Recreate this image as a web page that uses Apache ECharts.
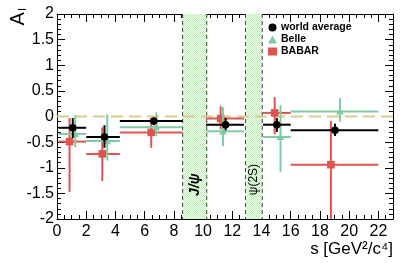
<!DOCTYPE html>
<html><head><meta charset="utf-8">
<script src="https://cdn.jsdelivr.net/npm/echarts@6/dist/echarts.min.js"></script>
<style>html,body{margin:0;padding:0;background:#fff}#c{width:409px;height:263px}</style>
</head><body><div id="c"></div>
<script>
// ---- data ----
const binLo = [0.1, 2.0, 4.3, 10.2, 14.1, 16.0];
const binHi = [2.0, 4.3, 8.6, 12.8, 16.0, 22.0];

const worldX  = [1.08, 3.25, 6.63, 11.54, 15.05, 19.03];
const worldY  = [-0.22, -0.40, -0.09, -0.16, -0.16, -0.27];
const worldLo = [-0.42, -0.61, -0.17, -0.27, -0.30, -0.38];
const worldHi = [-0.03, -0.17, -0.03, -0.03, -0.03, -0.14];

const belleX  = [1.25, 3.44, 6.80, 11.36, 15.30, 19.37];
const belleY  = [-0.34, -0.48, -0.21, -0.29, -0.40, 0.10];
const belleLo = [-0.60, -0.86, -0.38, -0.58, -1.08, -0.10];
const belleHi = [0.03, 0.04, 0.08, 0.18, 0.22, 0.36];

const babarX  = [0.86, 3.10, 6.45, 11.20, 14.90, 18.75];
const babarY  = [-0.49, -0.73, -0.31, -0.04, 0.07, -0.94];
const babarLo = [-1.47, -1.26, -0.61, -0.25, -0.35, -2.30];
const babarHi = [-0.03, -0.21, -0.03, 0.20, 0.38, -0.09];

const vetoLo = [8.6, 12.9];
const vetoHi = [10.25, 14.05];
const vetoLabel = ['J/ψ', 'ψ(2S)'];
const vetoLabelY = [-1.33, -1.23];

const xTicks = [0, 2, 4, 6, 8, 10, 12, 14, 16, 18, 20, 22];
const yTicks = [-2, -1.5, -1, -0.5, 0, 0.5, 1, 1.5, 2];
const zeroLineX = [0, 23];

const seriesNames = ['world average', 'Belle', 'BABAR'];
// ---- end data ----

const FONT = '"Liberation Sans", Arial, Helvetica, sans-serif';
const XMIN = 0, XMAX = 23, YMIN = -2, YMAX = 2;

function rows(xs, ys, lo, hi) {
  return xs.map((x, i) => [x, ys[i], lo[i], hi[i], binLo[i], binHi[i]]);
}

function errRender(color, symbol) {
  return function (params, api) {
    const x = api.value(0), y = api.value(1);
    const lo = Math.max(api.value(2), YMIN), hi = Math.min(api.value(3), YMAX);
    const p = api.coord([x, y]);
    const a = api.coord([api.value(4), y]);
    const b = api.coord([api.value(5), y]);
    const v1 = api.coord([x, lo]);
    const v2 = api.coord([x, hi]);
    const st = { stroke: color, lineWidth: 2 };
    const ch = [
      { type: 'line', shape: { x1: a[0], y1: a[1], x2: b[0], y2: b[1] }, style: st },
      { type: 'line', shape: { x1: v1[0], y1: v1[1], x2: v2[0], y2: v2[1] }, style: st }
    ];
    if (symbol === 'circle') {
      ch.push({ type: 'circle', shape: { cx: p[0], cy: p[1], r: 3.8 }, style: { fill: color } });
    } else if (symbol === 'triangle') {
      const s = 3.8;
      ch.push({ type: 'polygon', shape: { points: [[p[0], p[1] - s], [p[0] + s, p[1] + s * 0.8], [p[0] - s, p[1] + s * 0.8]] }, style: { fill: color } });
    } else {
      const s = 3.8;
      ch.push({ type: 'rect', shape: { x: p[0] - s, y: p[1] - s, width: 2 * s, height: 2 * s }, style: { fill: color } });
    }
    return { type: 'group', children: ch };
  };
}

// dotted green pattern for vetoed regions
const pc = document.createElement('canvas');
pc.width = 2; pc.height = 2;
const pctx = pc.getContext('2d');
pctx.fillStyle = '#f2fdf0'; pctx.fillRect(0, 0, 2, 2);
pctx.fillStyle = '#bdf0b6'; pctx.fillRect(0, 0, 1, 1); pctx.fillRect(1, 1, 1, 1);

function vetoRender(params, api) {
  const i = params.dataIndex;
  const lo = api.value(0), hi = api.value(1);
  const tl = api.coord([lo, YMAX]);
  const br = api.coord([hi, YMIN]);
  const dash = { stroke: '#444', lineWidth: 1, lineDash: [4, 3] };
  const tp = api.coord([(lo + hi) / 2, vetoLabelY[i]]);
  return {
    type: 'group', children: [
      { type: 'rect', shape: { x: tl[0], y: tl[1], width: br[0] - tl[0], height: br[1] - tl[1] },
        style: { fill: { image: pc, repeat: 'repeat' } } },
      { type: 'line', shape: { x1: tl[0], y1: tl[1], x2: tl[0], y2: br[1] }, style: dash },
      { type: 'line', shape: { x1: br[0], y1: tl[1], x2: br[0], y2: br[1] }, style: dash },
      { type: 'text', x: tp[0], y: tp[1], rotation: Math.PI / 2,
        style: { text: vetoLabel[i], fill: '#000', align: 'center', verticalAlign: 'middle',
          font: (i === 0 ? 'italic bold 14px ' : '12px ') + FONT } }
    ]
  };
}

const axisCommon = {
  min: XMIN, max: XMAX, interval: 2,
  axisLine: { show: true, onZero: false, lineStyle: { color: '#000', width: 1 } },
  axisTick: { show: true, inside: true, length: 8, lineStyle: { color: '#000' } },
  minorTick: { show: true, splitNumber: 4, length: 4, lineStyle: { color: '#000' } },
  splitLine: { show: false }
};
const yCommon = {
  min: YMIN, max: YMAX, interval: 0.5,
  axisLine: { show: true, onZero: false, lineStyle: { color: '#000', width: 1 } },
  axisTick: { show: true, inside: true, length: 8, lineStyle: { color: '#000' } },
  minorTick: { show: true, splitNumber: 5, length: 4, lineStyle: { color: '#000' } },
  splitLine: { show: false }
};

const chart = echarts.init(document.getElementById('c'), null, { renderer: 'canvas' });
chart.setOption({
  animation: false,
  backgroundColor: '#fff',
  grid: { left: 57, right: 16, top: 14, bottom: 44 },
  xAxis: [
    Object.assign({}, axisCommon, { type: 'value', position: 'bottom',
      axisLabel: { show: true, margin: 5, color: '#000', fontSize: 16, fontFamily: FONT,
        formatter: v => (xTicks.indexOf(v) >= 0 ? String(v) : '') } }),
    Object.assign({}, axisCommon, { type: 'value', position: 'top', axisLabel: { show: false } })
  ],
  yAxis: [
    Object.assign({}, yCommon, { type: 'value', position: 'left',
      axisLabel: { show: true, margin: 3, color: '#000', fontSize: 16, fontFamily: FONT,
        formatter: v => (yTicks.indexOf(v) >= 0 ? String(v) : '') } }),
    Object.assign({}, yCommon, { type: 'value', position: 'right', axisLabel: { show: false } })
  ],
  legend: {
    orient: 'vertical', left: 268, top: 22, itemWidth: 9, itemHeight: 8, itemGap: 1, padding: 0,
    textStyle: { fontFamily: FONT, fontSize: 10.5, lineHeight: 11, fontWeight: 'bold', color: '#000', padding: [0, 0, 0, -1] },
    data: [
      { name: seriesNames[0], icon: 'circle' },
      { name: seriesNames[1], icon: 'triangle' },
      { name: seriesNames[2], icon: 'rect' }
    ]
  },
  graphic: [
    { type: 'text', left: 8, top: 8, rotation: Math.PI / 2,
      style: { text: '{a|A}{s|I}', rich: {
        a: { fontSize: 20, fontFamily: FONT, fill: '#000' },
        s: { fontSize: 11, fontFamily: FONT, fill: '#000', padding: [10, 0, 0, 1] } } } },
    { type: 'text', right: 16, top: 241,
      style: { text: 's [GeV²/c⁴]', font: '17px ' + FONT, fill: '#000' } }
  ],
  series: [
    { type: 'custom', name: 'veto', renderItem: vetoRender, silent: true,
      data: vetoLo.map((v, i) => [v, vetoHi[i]]), encode: { x: [0, 1] }, z: 1 },
    { type: 'line', name: 'zero', data: zeroLineX.map(x => [x, 0]), symbol: 'none', silent: true,
      lineStyle: { color: '#d6ce8c', width: 2, type: [12, 6] }, z: 2 },
    { type: 'custom', name: seriesNames[2], renderItem: errRender('#e0544f', 'rect'),
      itemStyle: { color: '#e0544f' }, data: rows(babarX, babarY, babarLo, babarHi), encode: { x: 0, y: 1 }, z: 3 },
    { type: 'custom', name: seriesNames[1], renderItem: errRender('#7fcba3', 'triangle'),
      itemStyle: { color: '#7fcba3' }, data: rows(belleX, belleY, belleLo, belleHi), encode: { x: 0, y: 1 }, z: 4 },
    { type: 'custom', name: seriesNames[0], renderItem: errRender('#000000', 'circle'),
      itemStyle: { color: '#000' }, data: rows(worldX, worldY, worldLo, worldHi), encode: { x: 0, y: 1 }, z: 5 }
  ]
});
</script>
</body></html>
